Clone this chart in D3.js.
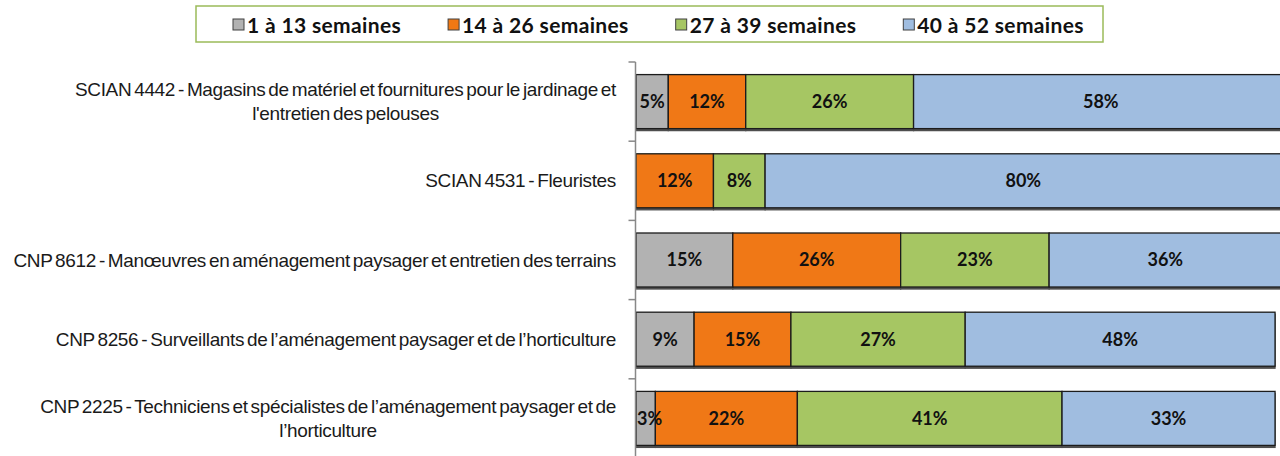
<!DOCTYPE html>
<html>
<head>
<meta charset="utf-8">
<script src="https://cdn.jsdelivr.net/npm/d3@7"></script>
<style>
  html, body { margin: 0; padding: 0; background: #fff; }
  svg { display: block; }
</style>
</head>
<body>
<svg id="chart" width="1280" height="456"></svg>
<script>
// ---- Data ----
const categories = [
  ["SCIAN 4442 - Magasins de matériel et fournitures pour le jardinage et", "l'entretien des pelouses"],
  ["SCIAN 4531 - Fleuristes"],
  ["CNP 8612 - Manœuvres en aménagement paysager et entretien des terrains"],
  ["CNP 8256 - Surveillants de l’aménagement paysager et de l’horticulture"],
  ["CNP 2225 - Techniciens et spécialistes de l’aménagement paysager et de", "l’horticulture"]
];
const seriesNames = ["1 à 13 semaines", "14 à 26 semaines", "27 à 39 semaines", "40 à 52 semaines"];
const s1to13  = [5, 0, 15, 9, 3];
const s14to26 = [12, 12, 26, 15, 22];
const s27to39 = [26, 8, 23, 27, 41];
const s40to52 = [58, 80, 36, 48, 33];
const seriesValues = [s1to13, s14to26, s27to39, s40to52];
const colors = ["#B2B2B2", "#F07814", "#A6C664", "#A0BDE0"];

// ---- Layout ----
const svg = d3.select("#chart");
const x = d3.scaleLinear().domain([0, 100]).range([636, 1281.5]);
const catIdx = categories.map((d, i) => i);
const y = d3.scaleBand().domain(catIdx).range([62, 458]).paddingInner(0.318).paddingOuter(0.159);

// shadow filter
const defs = svg.append("defs");
const f = defs.append("filter").attr("id", "shadow").attr("x", "-5%").attr("y", "-20%").attr("width", "110%").attr("height", "150%");
f.append("feDropShadow").attr("dx", 0).attr("dy", 2).attr("stdDeviation", 0.6).attr("flood-color", "#3a3a3a").attr("flood-opacity", 0.9);

// stacked data
const rows = catIdx.map(i => {
  let acc = 0;
  return seriesValues.map((vals, s) => {
    const v = vals[i];
    const seg = {row: i, s, v, x0: acc, x1: acc + v};
    acc += v;
    return seg;
  });
});

// bars
const barG = svg.append("g");
rows.forEach((segs, i) => {
  const g = barG.append("g").attr("filter", "url(#shadow)");
  g.selectAll("rect").data(segs.filter(d => d.v > 0)).join("rect")
    .attr("x", d => x(d.x0))
    .attr("y", y(i))
    .attr("width", d => x(d.x1) - x(d.x0))
    .attr("height", y.bandwidth())
    .attr("fill", d => colors[d.s])
    .attr("stroke", "#1a1a1a")
    .attr("stroke-width", 1.3);
});

// value labels
const labG = svg.append("g");
rows.forEach((segs, i) => {
  labG.selectAll(null).data(segs.filter(d => d.v > 0)).join("text")
    .attr("x", d => (x(d.x0) + x(d.x1)) / 2 + (d.v < 5 ? 4 : 0))
    .attr("y", y(i) + y.bandwidth() / 2)
    .attr("dy", "0.36em")
    .attr("text-anchor", "middle")
    .attr("font-family", "Lato, 'Open Sans', sans-serif")
    .attr("font-weight", "bold")
    .attr("font-size", "18px")
    .attr("fill", "#111")
    .text(d => d.v + "%");
});

// axis line + ticks at band boundaries
const axisX = 635.5;
const [r0, r1] = y.range();
svg.append("line").attr("x1", axisX).attr("x2", axisX).attr("y1", r0).attr("y2", r1)
  .attr("stroke", "#888").attr("stroke-width", 1.5);
d3.range(categories.length + 1).forEach(k => {
  const ty = r0 + k * y.step();
  svg.append("line").attr("x1", axisX - 7).attr("x2", axisX).attr("y1", ty).attr("y2", ty)
    .attr("stroke", "#888").attr("stroke-width", 1.5);
});

// category labels (right aligned block, lines centered)
const labelRight = 616;
const catG = svg.append("g")
  .style("font-family", "'Liberation Sans', Arial, sans-serif")
  .style("font-size", "19px")
  .style("word-spacing", "-2px")
  .style("letter-spacing", "-0.35px")
  .attr("fill", "#1a1a1a");
categories.forEach((lines, i) => {
  const cy = y(i) + y.bandwidth() / 2;
  const lh = 24;
  const texts = lines.map((ln, j) => catG.append("text")
    .attr("y", cy + (j - (lines.length - 1) / 2) * lh)
    .attr("dy", "0.35em")
    .attr("text-anchor", "middle")
    .text(ln));
  const widths = texts.map(t => t.node().getComputedTextLength());
  const maxW = d3.max(widths);
  texts.forEach(t => t.attr("x", labelRight - maxW / 2));
});

// legend
const leg = svg.append("g");
leg.append("rect").attr("x", 196).attr("y", 6).attr("width", 907).attr("height", 36)
  .attr("fill", "#fff").attr("stroke", "#9BBB59").attr("stroke-width", 1.5);
let lx = 233;
seriesNames.forEach((name, s) => {
  leg.append("rect").attr("x", lx).attr("y", 19).attr("width", 11).attr("height", 11)
    .attr("fill", colors[s]).attr("stroke", "#404040").attr("stroke-width", 1);
  const t = leg.append("text").attr("x", lx + 14).attr("y", 25).attr("dy", "0.36em")
    .attr("font-family", "Lato, 'Open Sans', sans-serif").attr("font-weight", "bold")
    .attr("font-size", "21px").attr("letter-spacing", "0.35px").attr("fill", "#111")
    .text(name);
  lx = lx + 14 + t.node().getComputedTextLength() + 47;
});
</script>
</body>
</html>
